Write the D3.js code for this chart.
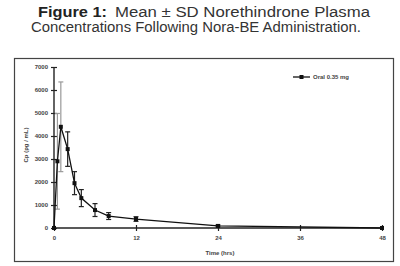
<!DOCTYPE html>
<html><head><meta charset="utf-8">
<script src="https://cdn.jsdelivr.net/npm/d3@7"></script>
<style>body{margin:0;background:#fff}svg{display:block}</style>
</head><body><svg id="c" width="400" height="266"></svg>
<script>
const times = [0, 0.5, 1, 2, 3, 4, 6, 8, 12, 24, 48];
const means = [0, 2900, 4400, 3430, 1950, 1300, 780, 520, 390, 90, 0];
const sds   = [0, 2080, 1950, 750, 500, 370, 280, 150, 100, 40, 0];
const grayBars = [0.5, 1];
const xTicks = [0, 12, 24, 36, 48];
const yTicks = [0, 1000, 2000, 3000, 4000, 5000, 6000, 7000];
const titleBold = "Figure 1:";
const titleRest = "Mean \u00B1 SD Norethindrone Plasma";
const title2 = "Concentrations Following Nora-BE Administration.";
const legendLabel = "Oral 0.35 mg";
const xLabel = "Time (hrs)";
const yLabel = "Cp (pg / mL)";

const svg = d3.select("#c");
const font = "'Liberation Sans Narrow','Arial Narrow','Liberation Sans',Arial,sans-serif";

svg.append("text").attr("x", 38).attr("y", 17).attr("font-family", font)
  .attr("font-size", 14).attr("font-weight", "bold").attr("fill", "#222")
  .attr("textLength", 69).attr("lengthAdjust", "spacingAndGlyphs").text(titleBold);
svg.append("text").attr("x", 115).attr("y", 17).attr("font-family", font)
  .attr("font-size", 14).attr("fill", "#333")
  .attr("textLength", 255).attr("lengthAdjust", "spacingAndGlyphs").text(titleRest);
svg.append("text").attr("x", 31).attr("y", 32).attr("font-family", font)
  .attr("font-size", 14).attr("fill", "#333").attr("textLength", 330).attr("lengthAdjust", "spacingAndGlyphs")
  .text(title2);

svg.append("rect").attr("x", 14.5).attr("y", 58.5).attr("width", 379).attr("height", 203)
  .attr("fill", "none").attr("stroke", "#444").attr("stroke-width", 1.2);

const x = d3.scaleLinear().domain([0, 48]).range([54, 382]);
const y = d3.scaleLinear().domain([0, 7000]).range([228, 67]);

const g = svg.append("g");
const sf = "'Liberation Sans',Arial,sans-serif";
const yAx = g.append("g").attr("transform", "translate(54,0)")
  .call(d3.axisLeft(y).tickValues(yTicks).tickSize(3).tickPadding(3).tickFormat(d3.format("d")));
yAx.select(".domain").attr("stroke", "#222").attr("stroke-width", 1.4).attr("d", `M0,${y(7000)}V${y(0)}`);
yAx.selectAll(".tick line").attr("x1", -3).attr("x2", 3).attr("stroke", "#222").attr("stroke-width", 1.2);
yAx.selectAll(".tick text").attr("font-family", sf).attr("font-size", 6).attr("font-weight", "bold").attr("fill", "#444");

const xAx = g.append("g").attr("transform", "translate(0,228)")
  .call(d3.axisBottom(x).tickValues(xTicks).tickSize(3).tickPadding(5).tickFormat(d3.format("d")));
xAx.select(".domain").attr("stroke", "#222").attr("stroke-width", 1.4).attr("d", `M${x(0)},0H${x(48)}`);
xAx.selectAll(".tick line").attr("y1", -3).attr("y2", 3).attr("stroke", "#222").attr("stroke-width", 1.2);
xAx.selectAll(".tick text").attr("font-family", sf).attr("font-size", 6).attr("font-weight", "bold").attr("fill", "#444");

svg.append("text").attr("x", 220).attr("y", 255).attr("text-anchor", "middle")
  .attr("font-family", sf).attr("font-size", 6).attr("font-weight", "bold").attr("fill", "#444").text(xLabel);
svg.append("text").attr("transform", "translate(28,145) rotate(-90)").attr("text-anchor", "middle")
  .attr("font-family", sf).attr("font-size", 6).attr("font-weight", "bold").attr("fill", "#444").text(yLabel);

const data = times.map((t, i) => ({t, m: means[i], s: sds[i]}));

const eb = g.append("g");
data.filter(d => d.s > 0).forEach(d => {
  const col = grayBars.includes(d.t) ? "#999" : "#222";
  const cx = x(d.t);
  eb.append("line").attr("x1", cx).attr("x2", cx).attr("y1", y(d.m - d.s)).attr("y2", y(d.m + d.s)).attr("stroke", col).attr("stroke-width", 1.2);
  [d.m - d.s, d.m + d.s].forEach(v => {
    eb.append("line").attr("x1", cx - 2.5).attr("x2", cx + 2.5).attr("y1", y(v)).attr("y2", y(v)).attr("stroke", col).attr("stroke-width", 1.2);
  });
});

g.append("path").datum(data).attr("fill", "none").attr("stroke", "#111").attr("stroke-width", 1.3)
  .attr("d", d3.line().x(d => x(d.t)).y(d => y(d.m)));
g.selectAll("rect.pt").data(data).enter().append("rect").attr("class", "pt")
  .attr("x", d => x(d.t) - 2).attr("y", d => y(d.m) - 2).attr("width", 4).attr("height", 4).attr("fill", "#111");

const lg = svg.append("g").attr("transform", "translate(293,77)");
lg.append("line").attr("x1", 0).attr("x2", 17).attr("y1", 0).attr("y2", 0).attr("stroke", "#111").attr("stroke-width", 1.3);
lg.append("rect").attr("x", 6.5).attr("y", -2).attr("width", 4).attr("height", 4).attr("fill", "#111");
lg.append("text").attr("x", 20).attr("y", 2).attr("font-family", sf).attr("font-size", 6).attr("font-weight", "bold").attr("fill", "#444").text(legendLabel);
</script></body></html>
